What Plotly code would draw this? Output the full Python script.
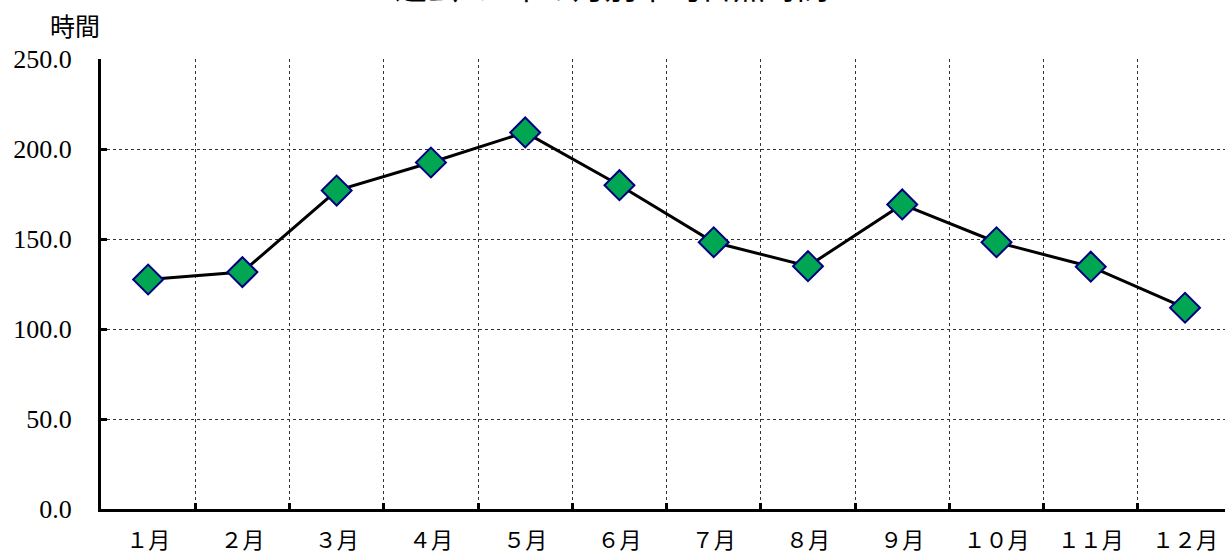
import plotly.graph_objects as go

months = ["１月", "２月", "３月", "４月", "５月", "６月", "７月", "８月", "９月", "１０月", "１１月", "１２月"]
hours = [127.5, 131.6, 176.9, 192.5, 209.2, 179.9, 148.2, 134.9, 169.2, 148.2, 134.6, 111.8]
y_ticks = [0, 50, 100, 150, 200, 250]
y_tick_text = ["0.0", "50.0", "100.0", "150.0", "200.0", "250.0"]
title_text = "過去5カ年の月別平均日照時間"
y_label = "時間"

fig = go.Figure()
fig.add_trace(go.Scatter(
    x=months, y=hours, mode="lines+markers",
    line=dict(color="black", width=3),
    marker=dict(symbol="diamond", size=23, color="#00A651",
                line=dict(color="#000080", width=2)),
    showlegend=False, cliponaxis=False,
))

fig.update_layout(
    width=1225, height=555,
    margin=dict(l=101, r=0, t=59, b=46),
    paper_bgcolor="white", plot_bgcolor="white",
    xaxis=dict(
        type="category", tickson="boundaries", range=[-0.5, 11.424],
        showgrid=True, gridcolor="#333", griddash="dot", gridwidth=1,
        ticks="inside", ticklen=6, tickwidth=3, tickcolor="black",
        showline=True, linecolor="black", linewidth=3,
        tickfont=dict(family="Noto Sans CJK JP", size=22, color="black"),
        ticklabelstandoff=10,
    ),
    yaxis=dict(
        range=[0, 250], tickvals=y_ticks, ticktext=y_tick_text,
        showgrid=True, gridcolor="#333", griddash="dot", gridwidth=1,
        ticks="inside", ticklen=6, tickwidth=3, tickcolor="black",
        showline=True, linecolor="black", linewidth=3, zeroline=False,
        tickfont=dict(family="Liberation Serif", size=26, color="black"),
        ticklabelstandoff=21,
    ),
    annotations=[
        dict(text=y_label, xref="paper", yref="paper", x=-0.023, y=1.0755,
             xanchor="center", yanchor="middle", showarrow=False,
             font=dict(family="Noto Sans CJK JP", size=25, color="black")),
        dict(text=title_text, xref="paper", yref="paper", x=0.455, y=1.108,
             xanchor="center", yanchor="bottom", showarrow=False,
             font=dict(family="Noto Sans CJK JP", size=32, color="black")),
    ],
)

fig.write_html("out.html", config={"displayModeBar": False},
               post_script="document.body.style.margin='0px';")
